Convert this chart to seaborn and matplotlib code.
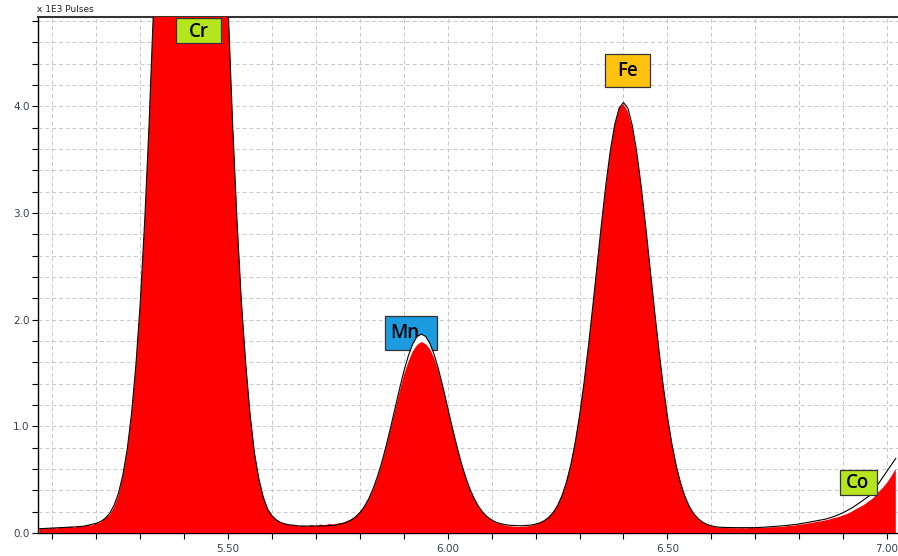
import numpy as np
import pandas as pd
import matplotlib
matplotlib.use("Agg")
import matplotlib.pyplot as plt
import seaborn as sns
from matplotlib.patches import Rectangle
from matplotlib.ticker import FixedLocator, MultipleLocator

# ---------------- data (x 1E3 pulses), channels from 5.07 keV every 0.01 keV ----------------
E_START = 5.07
E_STEP = 0.01

fit = [
    .040, .042, .044, .046, .048, .050, .052, .054, .057, .060,
    .063, .072, .080, .091, .109, .137, .184, .258, .37, .54,
    .78, 1.12, 1.58, 2.17, 2.93, 3.84, 4.91, 6.11, 7.41, 8.74,
    10.03, 11.20, 12.17, 12.86, 13.22, 13.22, 12.86, 12.17, 11.20, 10.03,
    8.74, 7.41, 6.11, 4.91, 3.84, 2.93, 2.17, 1.58, 1.10, 0.74,
    .50, .33, .22, .16, .12, .098, .084, .076, .071, .067,
    .065, .065, .065, .065, .066, .067, .069, .073, .079, .088,
    .101, .122, .151, .192, .248, .322, .416, .531, .667, .823,
    .993, 1.172, 1.349, 1.515, 1.659, 1.770, 1.841, 1.865, 1.841, 1.770,
    1.659, 1.515, 1.349, 1.172, .993, .823, .667, .531, .416, .322,
    .248, .192, .151, .122, .101, .088, .079, .073, .070, .068,
    .068, .071, .075, .083, .096, .116, .147, .192, .258, .350,
    .475, .638, .846, 1.100, 1.402, 1.745, 2.120, 2.512, 2.902, 3.267,
    3.582, 3.827, 3.982, 4.035, 3.980, 3.820, 3.575, 3.260, 2.895, 2.505,
    2.113, 1.738, 1.395, 1.092, .838, .630, .466, .340, .247, .180,
    .134, .102, .080, .067, .058, .054, .052, .051, .050, .050,
    .050, .050, .050, .050, .052, .055, .057, .060, .062, .065,
    .070, .075, .080, .085, .092, .100, .107, .115, .122, .130,
    .142, .155, .172, .190, .212, .235, .262, .290, .320, .350,
    .400, .460, .520, .580, .640, .700,
]

measured = [
    .035, .045, .040, .050, .042, .055, .048, .060, .050, .062,
    .058, .075, .070, .095, .100, .140, .170, .240, .350, .53,
    .76, 1.10, 1.56, 2.15, 2.90, 3.82, 4.90, 6.10, 7.40, 8.70,
    10.0, 11.2, 12.1, 12.9, 13.2, 13.2, 12.9, 12.2, 11.2, 10.0,
    8.7, 7.4, 6.1, 4.92, 3.88, 2.97, 2.20, 1.61, 1.13, 0.77,
    .52, .35, .23, .165, .125, .095, .088, .074, .078, .062,
    .070, .060, .075, .062, .080, .068, .085, .078, .090, .095,
    .110, .128, .150, .195, .245, .315, .405, .52, .655, .81,
    .98, 1.15, 1.32, 1.48, 1.60, 1.70, 1.76, 1.79, 1.77, 1.72,
    1.63, 1.50, 1.34, 1.17, 0.99, 0.83, 0.67, 0.54, 0.42, 0.33,
    .255, .195, .150, .118, .095, .085, .072, .065, .060, .056,
    .058, .062, .068, .080, .095, .118, .150, .198, .262, .355,
    .48, .64, .85, 1.10, 1.40, 1.74, 2.11, 2.50, 2.89, 3.25,
    3.57, 3.82, 3.98, 4.02, 3.95, 3.80, 3.55, 3.25, 2.89, 2.50,
    2.11, 1.74, 1.40, 1.10, 0.85, 0.645, 0.48, 0.35, 0.255, 0.185,
    .135, .100, .078, .062, .055, .050, .048, .045, .046, .044,
    .046, .043, .048, .047, .050, .049, .052, .054, .055, .058,
    .062, .068, .070, .078, .082, .090, .095, .105, .110, .118,
    .128, .140, .150, .165, .180, .200, .225, .245, .270, .300,
    .330, .380, .420, .470, .530, .600,
]

energy = np.round(E_START + E_STEP * np.arange(len(fit)), 2)

x_ticks = [5.5, 6.0, 6.5, 7.0]
x_tick_labels = ["5.50", "6.00", "6.50", "7.00"]
y_ticks = [0.0, 1.0, 2.0, 3.0, 4.0]
y_tick_labels = ["0.0", "1.0", "2.0", "3.0", "4.0"]

# element label boxes (energy / value coordinates)
label_names = ["Cr", "Mn", "Fe", "Co"]
label_colors = ["#b5e61d", "#1b9ce0", "#ffc20e", "#b5e61d"]
label_x0 = [5.3815, 5.8576, 6.3588, 6.894]
label_x1 = [5.484, 5.976, 6.4613, 6.978]
label_y0 = [4.592, 1.715, 4.180, 0.356]
label_y1 = [4.825, 2.034, 4.489, 0.590]
label_tx = [5.433, 5.901, 6.410, 6.933]
label_ty = [4.70, 1.875, 4.33, 0.465]
label_below = [False, True, False, False]

# ---------------- drawing ----------------
sns.set_style("white")
plt.rcParams['font.family'] = ['DejaVu Sans']

fig = plt.figure(figsize=(8.98, 5.56), dpi=100)
ax = fig.add_axes([38 / 898, 23 / 556, 860 / 898, 516 / 556])

df = pd.DataFrame({"energy": energy, "fit": fit, "measured": measured})

ax.fill_between(df["energy"], 0, df["fit"], color="white", lw=0, zorder=2)
ax.fill_between(df["energy"], 0, df["measured"], color="#ff0000", lw=0, zorder=3)
sns.lineplot(data=df, x="energy", y="fit", color="black", lw=0.8, ax=ax, zorder=4)

for name, col, x0, x1, y0, y1, tx, ty, below in zip(
        label_names, label_colors, label_x0, label_x1, label_y0, label_y1,
        label_tx, label_ty, label_below):
    zb = 1.6 if below else 5
    ax.add_patch(Rectangle((x0, y0), x1 - x0, y1 - y0, facecolor=col,
                           edgecolor="#333333", lw=0.9, zorder=zb))
    ax.text(tx, ty, name, ha="center", va="center", fontsize=13.5,
            family=["Open Sans", "DejaVu Sans"], fontweight="semibold",
            color="black", zorder=zb + 0.1)

ax.set_xlim(5.067, 7.025)
ax.set_ylim(0, 4.836)

ax.xaxis.set_major_locator(FixedLocator(x_ticks))
ax.set_xticklabels(x_tick_labels)
ax.xaxis.set_minor_locator(MultipleLocator(0.1))
ax.yaxis.set_major_locator(FixedLocator(y_ticks))
ax.set_yticklabels(y_tick_labels)
ax.yaxis.set_minor_locator(MultipleLocator(0.2))

ax.set_axisbelow(True)
ax.grid(which="both", color="#c8c8c8", linestyle=(0, (4, 3)), lw=0.7)

ax.tick_params(which="both", direction="out", length=4, width=0.8,
               color="black", labelsize=7.5, labelcolor="#34404e",
               bottom=True, left=True, top=False, right=False)
ax.tick_params(axis="x", pad=4)
ax.tick_params(axis="y", pad=2)

ax.set_xlabel("")
ax.set_ylabel("")

for s in ["left", "bottom"]:
    ax.spines[s].set_color("black")
    ax.spines[s].set_linewidth(1.0)
ax.spines["top"].set_color("#333333")
ax.spines["top"].set_linewidth(1.5)
ax.spines["right"].set_visible(False)

fig.text(37 / 898, 1 - 10 / 556, "x 1E3 Pulses", fontsize=6.5,
         ha="left", va="center", color="#222222")

fig.savefig("out.png", dpi=100)
